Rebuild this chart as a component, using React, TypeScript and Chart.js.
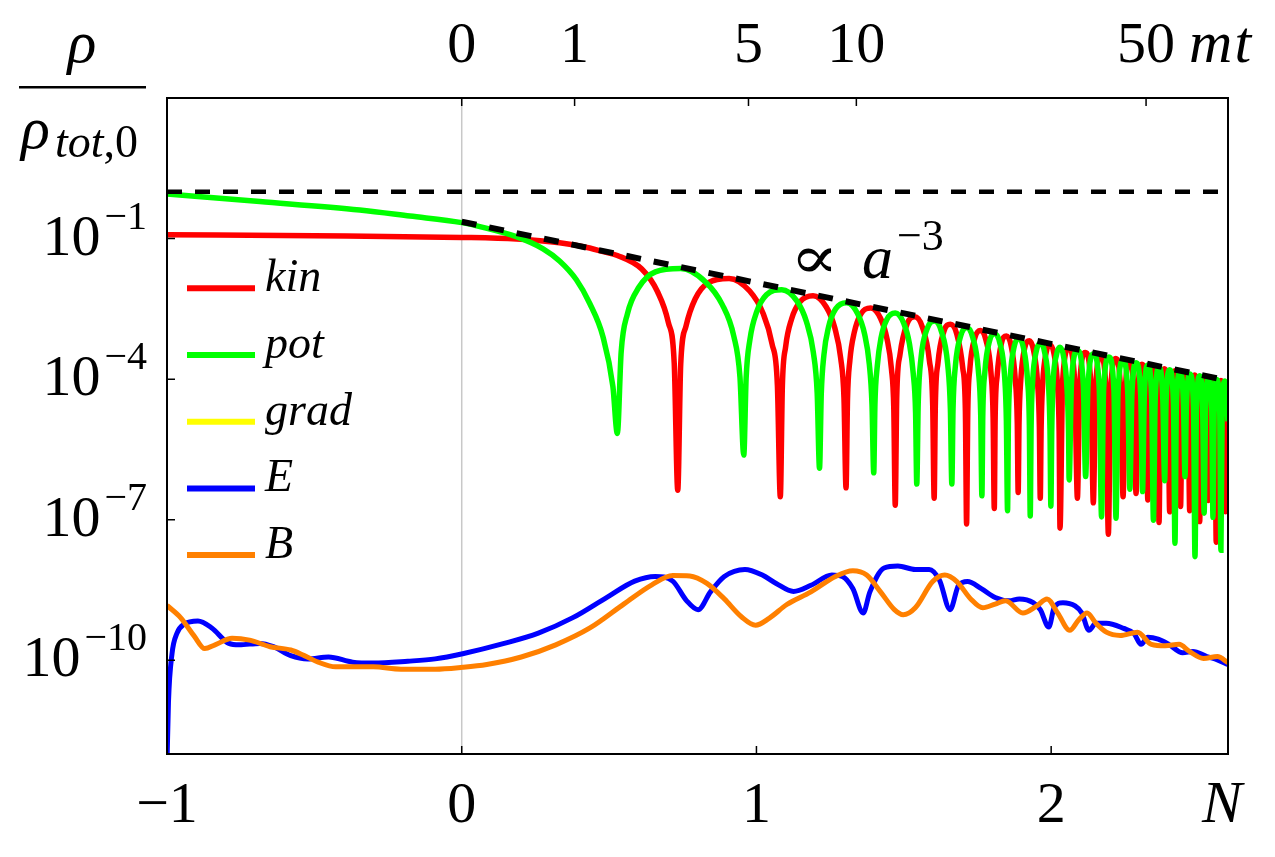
import React, { useEffect, useRef } from "react";
import { Chart, registerables } from "chart.js";

Chart.register(...registerables);

const SERIF = '"Liberation Serif", "DejaVu Serif", serif';

// ---- axes ----
const xTickN = [-1, 0, 1, 2];
const xTickLabels = ["\u22121", "0", "1", "2"];
const topTickN = [0, 0.383, 0.973, 1.339, 2.322];
const topTickLabels = ["0", "1", "5", "10", "50"];
const yTickExp = [-1, -4, -7, -10];

// ---- data: N (e-folds) and log10(rho / rho_tot,0) ----
const kinN = [
  -1, -0.5, 0, 0.186, 0.332, 0.434, 0.48, 0.528, 0.611, 0.664, 0.701, 0.721,
  0.733, 0.743, 0.761, 0.792, 0.837, 0.907, 0.977, 1.022, 1.053, 1.071,
  1.081, 1.088, 1.099, 1.119, 1.148, 1.192, 1.237, 1.266, 1.286, 1.297,
  1.304, 1.309, 1.317, 1.332, 1.354, 1.388, 1.421, 1.443, 1.458, 1.466,
  1.471, 1.476, 1.487, 1.511, 1.537, 1.563, 1.587, 1.598,
  1.603, 1.607, 1.616, 1.636, 1.658, 1.68, 1.7, 1.709,
  1.713, 1.717, 1.724, 1.741, 1.76, 1.779, 1.796, 1.803,
  1.807, 1.81, 1.817, 1.831, 1.848, 1.864, 1.878, 1.885,
  1.888, 1.891, 1.897, 1.91, 1.926, 1.94, 1.954, 1.96,
  1.963, 1.966, 1.971, 1.983, 1.996, 2.01, 2.022, 2.027,
  2.03, 2.039, 2.06, 2.08,
  2.089, 2.097, 2.116, 2.135,
  2.143, 2.151, 2.168, 2.186,
  2.194, 2.202, 2.219, 2.236,
  2.244, 2.251, 2.266, 2.281,
  2.288, 2.294, 2.308, 2.322,
  2.328, 2.334, 2.347, 2.36,
  2.366, 2.371, 2.384, 2.397,
  2.402, 2.408, 2.42, 2.433,
  2.439, 2.444, 2.454, 2.465,
  2.47, 2.475, 2.487, 2.499,
  2.504, 2.508, 2.518, 2.529,
  2.533, 2.537, 2.546, 2.556,
  2.56, 2.565, 2.576, 2.587,
  2.592, 2.6,
];
const kinLog = [
  -0.92, -0.94, -0.975, -1.01, -1.09, -1.2, -1.28, -1.36, -1.65, -2.13, -2.79, -3.66,
  -6.37, -3.69, -2.87, -2.29, -1.94, -1.85, -2.12, -2.59, -3.25, -4.12,
  -6.51, -4.14, -3.31, -2.72, -2.35, -2.22, -2.46, -2.91, -3.56, -4.41,
  -6.32, -4.43, -3.6, -3.0, -2.61, -2.48, -2.7, -3.14, -3.78, -4.63,
  -6.69, -4.39, -3.48, -2.82, -2.67, -2.89, -3.61, -4.55,
  -6.54, -4.56, -3.65, -2.98, -2.83, -3.04, -3.76, -4.7,
  -7.09, -4.71, -3.79, -3.12, -2.96, -3.17, -3.88, -4.82,
  -6.76, -4.83, -3.91, -3.24, -3.08, -3.28, -3.99, -4.93,
  -6.42, -4.93, -4.01, -3.34, -3.18, -3.38, -4.09, -5.02,
  -6.54, -5.03, -4.11, -3.43, -3.27, -3.47, -4.18, -5.11,
  -7.18, -4.02, -3.35, -4.07,
  -6.54, -4.09, -3.43, -4.14,
  -6.64, -4.16, -3.5, -4.21,
  -7.31, -4.23, -3.56, -4.27,
  -6.51, -4.29, -3.62, -4.33,
  -6.44, -4.35, -3.68, -4.39,
  -6.58, -4.4, -3.73, -4.44,
  -7.06, -4.45, -3.78, -4.48,
  -6.83, -4.5, -3.82, -4.53,
  -6.72, -4.55, -3.87, -4.57,
  -6.81, -4.59, -3.91, -4.62,
  -7.04, -4.63, -3.95, -4.66,
  -6.59, -4.67, -3.99, -4.69,
  -7.48, -4.7, -4.03, -4.73,
  -6.83, -4.75,
];

const potN = [
  -1, -0.685, -0.346, -0.176, 0, 0.072, 0.185, 0.276, 0.332, 0.389, 0.434, 0.479, 0.513,
  0.528, 0.541, 0.562, 0.601, 0.657, 0.743, 0.828, 0.884, 0.923, 0.944,
  0.957, 0.965, 0.978, 1.001, 1.034, 1.086, 1.137, 1.17, 1.193, 1.206,
  1.214, 1.22, 1.229, 1.245, 1.269, 1.306, 1.343, 1.367, 1.383, 1.392,
  1.398, 1.402, 1.41, 1.423, 1.442, 1.471, 1.5, 1.519, 1.532, 1.54,
  1.544, 1.549, 1.558, 1.58, 1.604, 1.627, 1.649, 1.658,
  1.663, 1.667, 1.675, 1.694, 1.714, 1.734, 1.753, 1.761,
  1.765, 1.768, 1.775, 1.791, 1.808, 1.826, 1.842, 1.848,
  1.852, 1.855, 1.861, 1.875, 1.89, 1.906, 1.92, 1.926,
  1.929, 1.932, 1.937, 1.95, 1.964, 1.978, 1.991, 1.996,
  1.999, 2.002, 2.006, 2.018, 2.03, 2.042, 2.054, 2.059,
  2.061, 2.069, 2.089, 2.109,
  2.117, 2.125, 2.144, 2.163,
  2.171, 2.178, 2.196, 2.213,
  2.22, 2.227, 2.244, 2.26,
  2.267, 2.274, 2.288, 2.304,
  2.31, 2.316, 2.328, 2.341,
  2.347, 2.353, 2.366, 2.379,
  2.385, 2.39, 2.402, 2.415,
  2.42, 2.425, 2.437, 2.449,
  2.454, 2.459, 2.471, 2.483,
  2.488, 2.493, 2.504, 2.514,
  2.519, 2.524, 2.534, 2.545,
  2.549, 2.553, 2.562, 2.572,
  2.576, 2.58, 2.589, 2.6,
];
const potLog = [
  -0.05, -0.21, -0.39, -0.52, -0.66, -0.76, -0.96, -1.22, -1.48, -1.88, -2.38, -3.09, -4.16,
  -5.16, -3.42, -2.61, -2.04, -1.71, -1.64, -1.93, -2.41, -3.08, -3.95,
  -5.62, -3.98, -3.15, -2.56, -2.2, -2.09, -2.33, -2.78, -3.43, -4.29,
  -5.9, -4.31, -3.48, -2.88, -2.5, -2.37, -2.6, -3.04, -3.68, -4.53,
  -6.0, -4.55, -3.72, -3.11, -2.73, -2.59, -2.81, -3.24, -3.88, -4.73,
  -6.24, -4.49, -3.57, -2.91, -2.76, -2.97, -3.69, -4.63,
  -6.24, -4.64, -3.72, -3.06, -2.9, -3.11, -3.82, -4.77,
  -6.49, -4.77, -3.85, -3.18, -3.03, -3.23, -3.94, -4.88,
  -6.81, -4.89, -3.97, -3.29, -3.13, -3.33, -4.04, -4.98,
  -6.92, -4.99, -4.06, -3.39, -3.23, -3.43, -4.13, -5.07,
  -6.71, -5.08, -4.15, -3.48, -3.32, -3.51, -4.22, -5.15,
  -6.15, -4.06, -3.39, -4.11,
  -6.08, -4.13, -3.46, -4.18,
  -6.94, -4.2, -3.53, -4.24,
  -6.97, -4.26, -3.59, -4.31,
  -6.35, -4.32, -3.65, -4.36,
  -6.4, -4.38, -3.7, -4.41,
  -7.01, -4.43, -3.75, -4.46,
  -6.17, -4.47, -3.8, -4.51,
  -7.5, -4.52, -3.85, -4.55,
  -6.08, -4.56, -3.89, -4.6,
  -7.79, -4.61, -3.93, -4.64,
  -6.86, -4.65, -3.97, -4.68,
  -6.95, -4.69, -4.01, -4.71,
  -7.65, -4.72, -4.04, -4.9,
];

const eN = [
  -1, -0.995, -0.983, -0.966, -0.942, -0.895, -0.848, -0.79, -0.755, -0.685, -0.639,
  -0.58, -0.522, -0.452, -0.37, -0.3, -0.183, -0.09, 0.003, 0.144, 0.26, 0.377,
  0.494, 0.587, 0.657, 0.716, 0.762, 0.802, 0.844, 0.891, 0.961, 1.02, 1.067,
  1.126, 1.185, 1.256, 1.291, 1.327, 1.362, 1.385, 1.433, 1.48, 1.539, 1.586,
  1.621, 1.657, 1.686, 1.716, 1.763, 1.81, 1.857, 1.892, 1.939, 1.963, 1.992,
  2.01, 2.04, 2.081, 2.104, 2.128, 2.152, 2.187, 2.246, 2.281, 2.305, 2.328,
  2.363, 2.399, 2.446, 2.481, 2.528, 2.564, 2.6,
];
const eLog = [
  -12.2, -10.89, -9.86, -9.42, -9.23, -9.16, -9.31, -9.64, -9.67, -9.64, -9.71,
  -9.9, -9.97, -9.93, -10.04, -10.06, -10.02, -9.97, -9.86, -9.64, -9.42, -9.09,
  -8.65, -8.31, -8.21, -8.31, -8.72, -8.92, -8.54, -8.21, -8.06, -8.18, -8.36,
  -8.53, -8.4, -8.18, -8.21, -8.47, -8.99, -8.54, -8.03, -7.99, -8.06, -8.06,
  -8.29, -8.92, -8.4, -8.32, -8.47, -8.66, -8.73, -8.69, -8.77, -8.92, -9.29,
  -8.88, -8.77, -8.84, -8.99, -9.36, -9.21, -9.21, -9.32, -9.43, -9.66, -9.51,
  -9.55, -9.66, -9.84, -9.81, -9.92, -9.99, -10.09,
];

const bN = [
  -1, -0.954, -0.907, -0.872, -0.837, -0.779, -0.72, -0.65, -0.58, -0.534, -0.487,
  -0.428, -0.37, -0.3, -0.206, -0.09, 0.003, 0.085, 0.202, 0.319, 0.435, 0.552,
  0.645, 0.716, 0.774, 0.832, 0.891, 0.949, 0.997, 1.044, 1.103, 1.185, 1.268,
  1.327, 1.374, 1.421, 1.468, 1.498, 1.539, 1.598, 1.639, 1.68, 1.727, 1.768,
  1.81, 1.845, 1.904, 1.951, 1.986, 2.022, 2.063, 2.093, 2.122, 2.152, 2.187,
  2.234, 2.293, 2.34, 2.387, 2.434, 2.469, 2.517, 2.564, 2.6,
];
const bLog = [
  -8.83, -9.09, -9.49, -9.75, -9.67, -9.53, -9.57, -9.71, -9.78, -9.9, -10.04,
  -10.14, -10.14, -10.14, -10.19, -10.19, -10.15, -10.09, -9.93, -9.67, -9.31, -8.79,
  -8.39, -8.19, -8.2, -8.36, -8.69, -9.07, -9.25, -9.1, -8.81, -8.54, -8.21,
  -8.09, -8.18, -8.54, -8.92, -9.03, -8.88, -8.32, -8.18, -8.32, -8.69, -8.88,
  -8.8, -8.73, -8.99, -8.84, -8.69, -8.99, -9.36, -9.14, -8.99, -9.21, -9.4,
  -9.47, -9.4, -9.66, -9.69, -9.66, -9.81, -9.96, -9.92, -10.05,
];

// reference lines
const unityN = [-1, 2.6];
const unityLog = [0, 0];
const a3N = [0, 2.6];
const a3Log = [-0.64, -4.03];

const legendNames = ["kin", "pot", "grad", "E", "B"];
const legendColors = ["#ff0000", "#00ff00", "#ffff00", "#0000ff", "#ff8000"];

function pts(ns: number[], logs: number[]) {
  return ns.map((n, i) => ({ x: n, y: Math.pow(10, logs[i]) }));
}

const overlay = {
  id: "overlay",
  beforeDatasetsDraw(chart: any) {
    const { ctx, chartArea: a, scales } = chart;
    const x0 = scales.x.getPixelForValue(0);
    ctx.save();
    ctx.strokeStyle = "#c8c8c8";
    ctx.lineWidth = 1.5;
    ctx.beginPath();
    ctx.moveTo(x0, a.top);
    ctx.lineTo(x0, a.bottom);
    ctx.stroke();
    ctx.restore();
  },
  afterDraw(chart: any) {
    const { ctx, chartArea: a, scales } = chart;
    const xs = scales.x;
    const ys = scales.y;
    ctx.save();
    // frame
    ctx.strokeStyle = "#000";
    ctx.lineWidth = 2;
    ctx.strokeRect(a.left, a.top, a.right - a.left, a.bottom - a.top);
    // ticks
    ctx.lineWidth = 1.5;
    ctx.beginPath();
    yTickExp.forEach((e) => {
      const y = ys.getPixelForValue(Math.pow(10, e));
      ctx.moveTo(a.left, y);
      ctx.lineTo(a.left + 8, y);
    });
    xTickN.forEach((n) => {
      const x = xs.getPixelForValue(n);
      ctx.moveTo(x, a.bottom);
      ctx.lineTo(x, a.bottom - 8);
    });
    topTickN.forEach((n) => {
      const x = xs.getPixelForValue(n);
      ctx.moveTo(x, a.top);
      ctx.lineTo(x, a.top + 8);
    });
    ctx.stroke();

    ctx.fillStyle = "#000";
    ctx.textBaseline = "alphabetic";
    // bottom labels
    ctx.font = `58px ${SERIF}`;
    ctx.textAlign = "center";
    xTickN.forEach((n, i) => {
      ctx.fillText(xTickLabels[i], xs.getPixelForValue(n), 822);
    });
    ctx.font = `italic 60px ${SERIF}`;
    ctx.fillText("N", 1222, 822);
    // top labels
    ctx.font = `58px ${SERIF}`;
    topTickN.forEach((n, i) => {
      ctx.fillText(topTickLabels[i], xs.getPixelForValue(n), 62);
    });
    const lastX = xs.getPixelForValue(topTickN[topTickN.length - 1]);
    const lastW = ctx.measureText(topTickLabels[topTickLabels.length - 1]).width;
    ctx.font = `italic 60px ${SERIF}`;
    ctx.textAlign = "left";
    const mx = lastX + lastW / 2 + 14;
    ctx.fillText("m", mx, 62);
    ctx.fillText("t", mx + ctx.measureText("m").width + 2, 62);

    // y labels 10^e
    yTickExp.forEach((e) => {
      const y = ys.getPixelForValue(Math.pow(10, e));
      ctx.textAlign = "right";
      ctx.font = `40px ${SERIF}`;
      const expTxt = "\u2212" + String(-e);
      ctx.fillText(expTxt, 147, y - 10);
      const ew = ctx.measureText(expTxt).width;
      ctx.font = `58px ${SERIF}`;
      ctx.fillText("10", 147 - ew - 4, y + 16);
    });

    // y title  rho / rho_tot,0
    ctx.textAlign = "center";
    ctx.font = `italic 60px ${SERIF}`;
    ctx.fillText("\u03c1", 82, 62);
    ctx.fillRect(19, 86, 127, 2.5);
    ctx.textAlign = "left";
    ctx.fillText("\u03c1", 21, 148);
    ctx.font = `italic 46px ${SERIF}`;
    ctx.fillText("tot", 55, 157);
    const tw = ctx.measureText("tot").width;
    ctx.font = `46px ${SERIF}`;
    ctx.fillText(",0", 55 + tw, 157);

    // annotation  ∝ a^-3
    ctx.save();
    ctx.translate(790, 278);
    ctx.scale(1.2, 1);
    ctx.font = `60px "DejaVu Serif", serif`;
    ctx.fillText("\u221d", 0, 0);
    ctx.restore();
    ctx.font = `italic 62px ${SERIF}`;
    ctx.fillText("a", 862, 278);
    ctx.font = `44px ${SERIF}`;
    ctx.fillText("\u22123", 897, 250);

    // legend
    legendNames.forEach((name, i) => {
      const y = 288.3 + i * 66.7;
      ctx.strokeStyle = legendColors[i];
      ctx.lineWidth = 6;
      ctx.beginPath();
      ctx.moveTo(187, y);
      ctx.lineTo(255, y);
      ctx.stroke();
      ctx.fillStyle = "#000";
      ctx.font = `italic 46px ${SERIF}`;
      ctx.textAlign = "left";
      ctx.fillText(name, 265, y + 3);
    });
    ctx.restore();
  },
};

export default function App() {
  const ref = useRef<HTMLCanvasElement | null>(null);
  useEffect(() => {
    if (!ref.current) return;
    const chart = new Chart(ref.current, {
      type: "line",
      data: {
        datasets: [
          {
            label: "a^-3",
            data: pts(a3N, a3Log),
            borderColor: "#000",
            borderWidth: 6,
            borderDash: [15, 13],
            borderCapStyle: "butt",
            pointRadius: 0,
            order: 0,
          },
          {
            label: "unity",
            data: pts(unityN, unityLog),
            borderColor: "#000",
            borderWidth: 4.5,
            borderDash: [15, 13],
            borderCapStyle: "butt",
            pointRadius: 0,
            order: 1,
          },
          {
            label: "pot",
            data: pts(potN, potLog),
            borderColor: legendColors[1],
            borderWidth: 5.5,
            pointRadius: 0,
            cubicInterpolationMode: "monotone",
            order: 2,
          },
          {
            label: "kin",
            data: pts(kinN, kinLog),
            borderColor: legendColors[0],
            borderWidth: 5.5,
            pointRadius: 0,
            cubicInterpolationMode: "monotone",
            order: 3,
          },
          {
            label: "B",
            data: pts(bN, bLog),
            borderColor: legendColors[4],
            borderWidth: 5,
            pointRadius: 0,
            cubicInterpolationMode: "monotone",
            order: 4,
          },
          {
            label: "E",
            data: pts(eN, eLog),
            borderColor: legendColors[3],
            borderWidth: 5,
            pointRadius: 0,
            cubicInterpolationMode: "monotone",
            order: 5,
          },
        ],
      },
      options: {
        responsive: false,
        animation: false,
        events: [],
        layout: { padding: { left: 167, top: 98, right: 47, bottom: 103 } },
        plugins: { legend: { display: false }, tooltip: { enabled: false } },
        scales: {
          x: { type: "linear", min: -1, max: 2.6, display: false },
          y: { type: "logarithmic", min: 1e-12, max: 100, display: false },
        },
      },
      plugins: [overlay],
    } as any);
    return () => chart.destroy();
  }, []);
  return (
    <div style={{ position: "absolute", left: 0, top: 0, width: 1275, height: 857, background: "#fff" }}>
      <canvas ref={ref} width={1275} height={857} style={{ display: "block" }} />
    </div>
  );
}
